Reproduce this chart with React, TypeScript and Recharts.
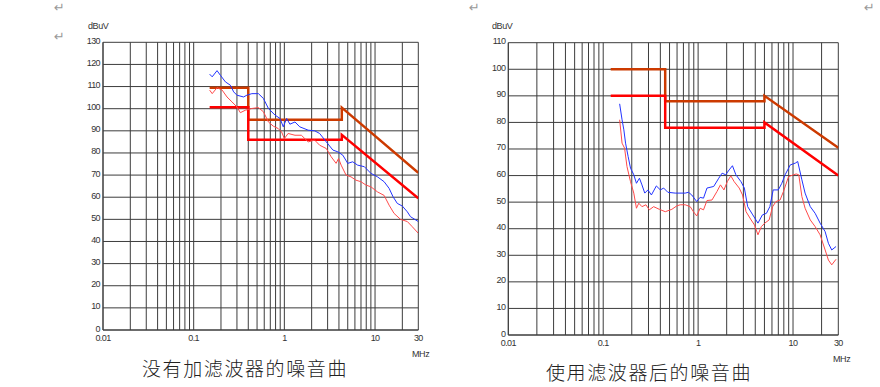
import React from "react";
import { LineChart, Line, XAxis, YAxis, CartesianGrid } from "recharts";

// x grid: every 1..9 step per decade, labels only on a few
const X_TICKS = [
  0.01, 0.02, 0.03, 0.04, 0.05, 0.06, 0.07, 0.08, 0.09,
  0.1, 0.2, 0.3, 0.4, 0.5, 0.6, 0.7, 0.8, 0.9,
  1, 2, 3, 4, 5, 6, 7, 8, 9,
  10, 20, 30,
];
const X_LABELS = [0.01, 0.1, 1, 10, 30];
const Y_TICKS_LEFT = [0, 10, 20, 30, 40, 50, 60, 70, 80, 90, 100, 110, 120, 130];
const Y_TICKS_RIGHT = [0, 10, 20, 30, 40, 50, 60, 70, 80, 90, 100, 110];

// --- without filter (left) ---
const leftQpLimitF = [0.15, 0.4, 0.4, 4.3, 4.3, 30];
const leftQpLimitV = [109.5, 109.5, 95, 95, 100.5, 71];
const leftAvLimitF = [0.15, 0.4, 0.4, 4.3, 4.3, 30];
const leftAvLimitV = [100.7, 100.7, 86, 86, 88.2, 59.5];

const leftBlueF = [
  0.15, 0.16, 0.181, 0.197, 0.224, 0.254, 0.276, 0.3, 0.355, 0.386, 0.438, 0.518,
  0.588, 0.667, 0.789, 0.895, 0.973, 1.06, 1.15, 1.31, 1.48, 1.83, 2.16, 2.45, 2.9,
  3.43, 3.89, 4.41, 5.0, 5.67, 6.43, 7.62, 9.0, 10.65, 12.6, 14.3, 15.8, 17.6, 20.0,
  22.7, 24.6, 30,
];
const leftBlueV = [
  115.6, 114.4, 117.2, 115.1, 112.1, 110.6, 107.6, 106.1, 105.3, 106.1, 106.8, 106.8,
  104.6, 100.1, 97.1, 95.6, 91.8, 95.6, 93, 94, 91.8, 90.3, 90, 88.8, 85,
  81.3, 80.5, 79, 75.3, 76, 74.5, 73.8, 70.8, 69.2, 67, 64, 60.2, 57.2, 56,
  53.4, 51.2, 49,
];
const leftRedF = [
  0.15, 0.16, 0.181, 0.206, 0.233, 0.264, 0.3, 0.327, 0.371, 0.438, 0.518, 0.588,
  0.667, 0.756, 0.858, 0.932, 1.0, 1.1, 1.31, 1.54, 1.83, 2.16, 2.45, 2.9, 3.28,
  3.72, 3.96, 4.23, 4.79, 5.43, 6.16, 7.0, 7.93, 9.0, 10.65, 12.6, 14.3, 16.2,
  19.1, 22.7, 25.7, 30,
];
const leftRedV = [
  108.4, 106.8, 109.5, 108.4, 105.3, 103.1, 100.8, 98.2, 99.3, 100.1, 100.5, 98.6,
  94, 92.1, 91, 89.5, 86.5, 88.8, 88, 88, 85, 85.8, 83.5, 82, 78.3,
  75.3, 77.5, 74.5, 70, 69.2, 67.7, 67, 65.5, 64.7, 62.4, 60.8, 56.4, 52.7,
  50, 49, 46.7, 43.7,
];

// --- with filter (right) ---
const rightQpLimitF = [0.12, 0.45, 0.45, 5, 5, 30];
const rightQpLimitV = [100, 100, 88, 88, 90, 70.5];
const rightAvLimitF = [0.12, 0.45, 0.45, 5, 5, 30];
const rightAvLimitV = [90, 90, 78, 78, 80, 60];

const rightBlueF = [
  0.149, 0.158, 0.165, 0.172, 0.183, 0.194, 0.21, 0.224, 0.241, 0.256, 0.274, 0.296,
  0.322, 0.363, 0.4, 0.433, 0.48, 0.574, 0.731, 0.791, 0.857, 0.967, 1.05, 1.14,
  1.24, 1.46, 1.65, 1.79, 1.95, 2.12, 2.3, 2.5, 2.83, 3.07, 3.33, 3.77, 4.27, 4.76,
  5.25, 5.7, 6.18, 7.0, 7.62, 8.26, 9.35, 10.6, 11.2, 12.4, 13.4, 15.2, 17.1, 19.3,
  21.8, 23.6, 25.6, 28.4,
];
const rightBlueV = [
  87, 81, 77.2, 72.2, 67.2, 62.8, 60.3, 57.1, 59, 56.5, 53.4, 54.6,
  52.7, 56.1, 54.6, 55.3, 53.7, 53.4, 53.4, 53.7, 52.7, 50.2, 51.8, 51.5,
  55.3, 55.9, 59, 60.9, 60.3, 62.1, 63.7, 60.3, 57.7, 55.3, 48.3, 45.2, 42.1, 45.2,
  45.8, 48.3, 54.6, 54.6, 57.1, 60.3, 64, 64.7, 65.3, 58.4, 53.4, 48.3, 45.8, 42.1,
  38.9, 34.5, 32, 33.3,
];
const rightRedF = [
  0.149, 0.158, 0.168, 0.178, 0.194, 0.21, 0.224, 0.237, 0.256, 0.282, 0.306, 0.34,
  0.39, 0.451, 0.529, 0.597, 0.648, 0.731, 0.825, 0.893, 0.967, 1.05, 1.14, 1.24,
  1.4, 1.58, 1.72, 1.87, 2.03, 2.21, 2.4, 2.71, 2.94, 3.2, 3.62, 3.93, 4.27, 4.64,
  5.04, 5.6, 6.1, 6.61, 7.3, 7.93, 8.97, 10.1, 10.8, 11.5, 12.4, 13.4, 15.2, 17.1,
  19.3, 21.8, 23.6, 25.6, 28.4,
];
const rightRedV = [
  81, 72.2, 70.3, 63.4, 57.7, 53.4, 47.7, 49.6, 48.3, 49, 47.1, 48.3,
  47.3, 46.4, 47.3, 48.6, 49, 49, 48.3, 46.4, 44.8, 47.7, 47.1, 50.6,
  50.8, 54, 56.5, 54.6, 57.7, 59.9, 57.7, 55.3, 52.7, 46.4, 43.3, 41.4, 37.7, 40.8,
  42.1, 43.3, 48.3, 50.2, 50.8, 54, 59.6, 60.3, 60.6, 60.3, 52.1, 47.7, 43.3, 40.8,
  37.7, 32, 28.2, 26.4, 28.5,
];

const toPoints = (f: number[], v: number[]) => f.map((x, i) => ({ f: x, v: v[i] }));

const QP_COLOR = "#CC3A00";
const AV_COLOR = "#FF0000";
const BLUE = "#2233FF";
const RED_TRACE = "#FF4A4A";
const GRID = "#3c3c3c";
const FONT = "'Liberation Sans', Arial, sans-serif";

function XTick({ x, y, payload }: any) {
  const v = payload.value;
  if (!X_LABELS.includes(v)) return null;
  return (
    <text x={x} y={y + 8} textAnchor="middle" dominantBaseline="central"
      fontSize={9} fontFamily={FONT} fill="#333" letterSpacing={-0.6}>
      {String(v)}
    </text>
  );
}

function YTick({ x, y, payload }: any) {
  return (
    <text x={x - 3} y={y - 1.5} textAnchor="end" dominantBaseline="central"
      fontSize={9} fontFamily={FONT} fill="#333" letterSpacing={-0.6}>
      {payload.value}
    </text>
  );
}

interface PanelProps {
  left: number;
  margin: { top: number; right: number; bottom: number; left: number };
  yMax: number;
  yTicks: number[];
  qp: { f: number; v: number }[];
  av: { f: number; v: number }[];
  blue: { f: number; v: number }[];
  red: { f: number; v: number }[];
}

function Panel({ left, margin, yMax, yTicks, qp, av, blue, red }: PanelProps) {
  return (
    <div style={{ position: "absolute", left, top: 0 }}>
      <LineChart width={440} height={387} margin={margin}>
        <CartesianGrid stroke={GRID} strokeWidth={1} />
        <XAxis
          dataKey="f"
          type="number"
          scale="log"
          domain={[0.01, 30]}
          ticks={X_TICKS}
          interval={0}
          allowDataOverflow
          height={30}
          tickLine={false}
          tickSize={0}
          tickMargin={0}
          axisLine={{ stroke: GRID }}
          tick={<XTick />}
        />
        <YAxis
          type="number"
          domain={[0, yMax]}
          ticks={yTicks}
          interval={0}
          width={40}
          tickLine={false}
          tickSize={0}
          tickMargin={0}
          axisLine={{ stroke: GRID }}
          tick={<YTick />}
        />
        <Line data={qp} dataKey="v" type="linear" stroke={QP_COLOR} strokeWidth={2.5} dot={false} activeDot={false} isAnimationActive={false} />
        <Line data={av} dataKey="v" type="linear" stroke={AV_COLOR} strokeWidth={2.5} dot={false} activeDot={false} isAnimationActive={false} />
        <Line data={blue} dataKey="v" type="linear" stroke={BLUE} strokeWidth={1} dot={false} activeDot={false} isAnimationActive={false} />
        <Line data={red} dataKey="v" type="linear" stroke={RED_TRACE} strokeWidth={1} dot={false} activeDot={false} isAnimationActive={false} />
      </LineChart>
    </div>
  );
}

const small: React.CSSProperties = {
  position: "absolute",
  fontFamily: FONT,
  fontSize: 9,
  letterSpacing: -0.4,
  color: "#333",
  lineHeight: "10px",
};
const title: React.CSSProperties = {
  position: "absolute",
  fontFamily: "'Noto Sans CJK SC', sans-serif",
  fontSize: 19,
  fontWeight: 300,
  letterSpacing: 1.6,
  color: "#222",
  lineHeight: "22px",
  whiteSpace: "nowrap",
};
const mark: React.CSSProperties = {
  position: "absolute",
  fontFamily: "'DejaVu Sans', sans-serif",
  fontSize: 13,
  color: "#999",
  lineHeight: "16px",
};

export default function App() {
  return (
    <div style={{ position: "absolute", left: 0, top: 0, width: 880, height: 387, background: "#fff", overflow: "hidden" }}>
      <Panel
        left={0}
        margin={{ top: 42.3, right: 21.7, bottom: 27, left: 63 }}
        yMax={130}
        yTicks={Y_TICKS_LEFT}
        qp={toPoints(leftQpLimitF, leftQpLimitV)}
        av={toPoints(leftAvLimitF, leftAvLimitV)}
        blue={toPoints(leftBlueF, leftBlueV)}
        red={toPoints(leftRedF, leftRedV)}
      />
      <Panel
        left={440}
        margin={{ top: 42.7, right: 41.7, bottom: 22, left: 28.3 }}
        yMax={110}
        yTicks={Y_TICKS_RIGHT}
        qp={toPoints(rightQpLimitF, rightQpLimitV)}
        av={toPoints(rightAvLimitF, rightAvLimitV)}
        blue={toPoints(rightBlueF, rightBlueV)}
        red={toPoints(rightRedF, rightRedV)}
      />

      <div style={{ ...small, left: 88, top: 21 }}>dBuV</div>
      <div style={{ ...small, left: 492, top: 21 }}>dBuV</div>
      <div style={{ ...small, left: 412, top: 349 }}>MHz</div>
      <div style={{ ...small, left: 833, top: 354 }}>MHz</div>

      <div style={{ ...title, left: 142, top: 357 }}>没有加滤波器的噪音曲</div>
      <div style={{ ...title, left: 546, top: 361 }}>使用滤波器后的噪音曲</div>

      <div style={{ ...mark, left: 54, top: 0 }}>↵</div>
      <div style={{ ...mark, left: 54, top: 29 }}>↵</div>
      <div style={{ ...mark, left: 469, top: 0 }}>↵</div>
      <div style={{ ...mark, left: 864, top: 0 }}>↵</div>
    </div>
  );
}
